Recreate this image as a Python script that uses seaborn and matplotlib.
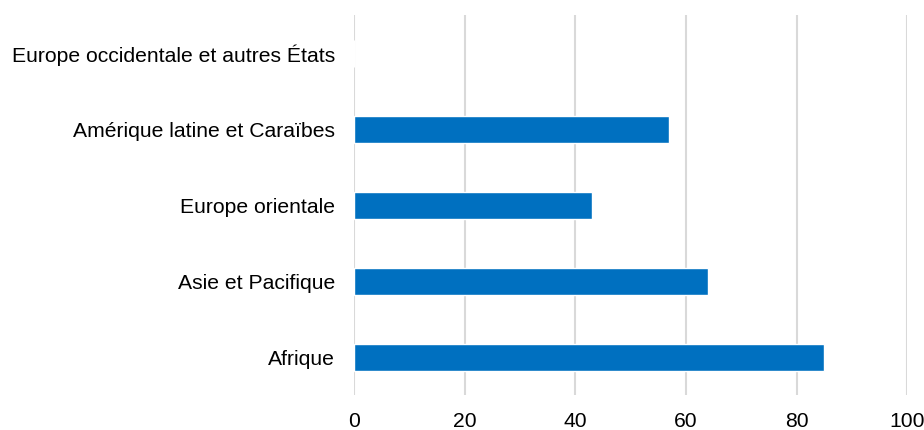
import matplotlib
matplotlib.use("Agg")
import matplotlib.pyplot as plt
import seaborn as sns
import pandas as pd

regions = [
    "Europe occidentale et autres États",
    "Amérique latine et Caraïbes",
    "Europe orientale",
    "Asie et Pacifique",
    "Afrique",
]
values = [0, 57, 43, 64, 85]
x_ticks = [0, 20, 40, 60, 80, 100]

sns.set_theme(style="white")
plt.rcParams["font.family"] = ["Liberation Sans", "DejaVu Sans"]

df = pd.DataFrame({"region": regions, "value": values})

fig = plt.figure(figsize=(9.24, 4.30), dpi=100)
ax = fig.add_axes([0.383, 0.081, 0.599, 0.884])

sns.barplot(data=df, x="value", y="region", orient="h", color="#0070C0",
            saturation=1, width=0.355, ax=ax, zorder=3)

ax.set_xlim(0, 100)
ax.set_xticks(x_ticks)
ax.set_xticklabels([str(t) for t in x_ticks])
ax.grid(axis="x", color="#d9d9d9", linewidth=1.5, zorder=0)
ax.grid(axis="y", visible=False)
for s in ax.spines.values():
    s.set_visible(False)
ax.set_xlabel("")
ax.set_ylabel("")
ax.tick_params(axis="both", length=0, labelsize=15.2, colors="black")
ax.tick_params(axis="x", pad=12)
ax.tick_params(axis="y", pad=13.5)

fig.savefig("out.png", dpi=100)
